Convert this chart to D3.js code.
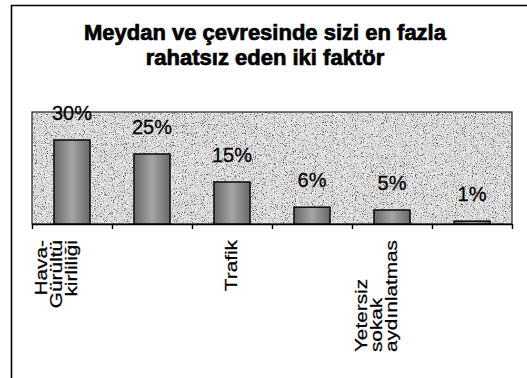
<!DOCTYPE html>
<html>
<head>
<meta charset="utf-8">
<script src="https://cdn.jsdelivr.net/npm/d3@7"></script>
<style>
  html, body { margin: 0; padding: 0; background: #fff; }
  svg { display: block; }
</style>
</head>
<body>
<svg id="chart" width="527" height="378"></svg>
<script>
// Survey: the two factors that disturb people most around the square
const titleLines = ["Meydan ve çevresinde sizi en fazla", "rahatsız eden iki faktör"];
const categoryLabels = [
  ["Hava-", "Gürültü", "kirliliği"],
  [],
  ["Trafik"],
  [],
  ["Yetersiz", "sokak", "aydınlatmas"],
  []
];
const values = [30, 25, 15, 6, 5, 1];
const valueLabels = ["30%", "25%", "15%", "6%", "5%", "1%"];
const yDomain = [0, 40];

const svg = d3.select("#chart");
const W = 527, H = 378;
const plot = { left: 32, right: 512, top: 112, bottom: 224 };
const FONT = "'Liberation Sans', Arial, sans-serif";

// ---- textures ----
const defs = svg.append("defs");
function grain(id, freq, darkGain, darkBias, lightGain, lightBias, seed) {
  const f = defs.append("filter").attr("id", id)
    .attr("filterUnits", "objectBoundingBox")
    .attr("color-interpolation-filters", "sRGB")
    .attr("x", 0).attr("y", 0).attr("width", 1).attr("height", 1);
  f.append("feTurbulence").attr("type", "fractalNoise")
    .attr("baseFrequency", freq).attr("numOctaves", 3).attr("seed", seed).attr("result", "n");
  f.append("feColorMatrix").attr("in", "n").attr("type", "matrix")
    .attr("values", `0 0 0 0 0.25  0 0 0 0 0.25  0 0 0 0 0.25  ${darkGain} 0 0 0 ${darkBias}`)
    .attr("result", "dark");
  f.append("feColorMatrix").attr("in", "n").attr("type", "matrix")
    .attr("values", `0 0 0 0 1  0 0 0 0 1  0 0 0 0 1  ${lightGain} 0 0 0 ${lightBias}`)
    .attr("result", "light");
  const m = f.append("feMerge").attr("result", "mix");
  m.append("feMergeNode").attr("in", "SourceGraphic");
  m.append("feMergeNode").attr("in", "dark");
  m.append("feMergeNode").attr("in", "light");
  f.append("feComposite").attr("in", "mix").attr("in2", "SourceGraphic").attr("operator", "in");
}
grain("plotGrain", 1.1, 4, -2.3, -4, 2.05, 4);
grain("barGrain", 1.0, 4, -2.2, -4, 1.9, 9);

const barGrad = defs.append("linearGradient").attr("id", "barGrad")
  .attr("x1", 0).attr("x2", 1).attr("y1", 0).attr("y2", 0);
barGrad.append("stop").attr("offset", "0%").attr("stop-color", "#6a6a6a");
barGrad.append("stop").attr("offset", "50%").attr("stop-color", "#a4a4a4");
barGrad.append("stop").attr("offset", "100%").attr("stop-color", "#6a6a6a");

// ---- chart frame ----
svg.append("path")
  .attr("d", `M11.5,${H} V5.5 H${W}`)
  .attr("fill", "none").attr("stroke", "#000").attr("stroke-width", 1.6);

// ---- title ----
svg.append("g").selectAll("text").data(titleLines).join("text")
  .attr("x", 265)
  .attr("y", (d, i) => 40 + i * 25)
  .attr("text-anchor", "middle")
  .attr("font-family", FONT).attr("font-weight", "bold").attr("font-size", 22)
  .attr("fill", "#000").attr("stroke", "#000").attr("stroke-width", 0.7)
  .text(d => d);

// ---- scales ----
const x = d3.scaleBand().domain(d3.range(values.length))
  .range([plot.left, plot.right]).paddingInner(0.55).paddingOuter(0.275);
const y = d3.scaleLinear().domain(yDomain).range([plot.bottom, plot.top]);
const xEdge = d3.scaleLinear().domain([0, values.length]).range([plot.left, plot.right]);

// ---- plot area ----
svg.append("rect")
  .attr("x", plot.left).attr("y", plot.top)
  .attr("width", plot.right - plot.left).attr("height", plot.bottom - plot.top)
  .attr("fill", "#d4d4d4").attr("filter", "url(#plotGrain)");
svg.append("rect")
  .attr("x", plot.left).attr("y", plot.top)
  .attr("width", plot.right - plot.left).attr("height", plot.bottom - plot.top)
  .attr("fill", "none").attr("stroke", "#222").attr("stroke-width", 1.2);

// ---- bars ----
const bars = svg.append("g");
bars.selectAll("rect.fill").data(values).join("rect").attr("class", "fill")
  .attr("x", (d, i) => x(i)).attr("width", x.bandwidth())
  .attr("y", d => y(d)).attr("height", d => y(0) - y(d))
  .attr("fill", "url(#barGrad)").attr("filter", "url(#barGrain)");
bars.selectAll("rect.edge").data(values).join("rect").attr("class", "edge")
  .attr("x", (d, i) => x(i)).attr("width", x.bandwidth())
  .attr("y", d => y(d)).attr("height", d => y(0) - y(d))
  .attr("fill", "none").attr("stroke", "#111").attr("stroke-width", 1.6);

// ---- value labels ----
svg.append("g").selectAll("text").data(values).join("text")
  .attr("x", (d, i) => x(i) + x.bandwidth() / 2)
  .attr("y", d => y(d) - 20)
  .attr("text-anchor", "middle")
  .attr("font-family", FONT).attr("font-size", 20)
  .attr("fill", "#000").attr("stroke", "#000").attr("stroke-width", 0.3)
  .text((d, i) => valueLabels[i]);

// ---- category axis ----
const axis = svg.append("g")
  .attr("transform", `translate(0,${plot.bottom})`)
  .call(d3.axisBottom(xEdge).tickValues(d3.range(values.length + 1))
    .tickSize(5).tickSizeOuter(0).tickFormat(""));
axis.select(".domain").attr("stroke", "#000").attr("stroke-width", 1.6);
axis.selectAll(".tick line").attr("stroke", "#000").attr("stroke-width", 1.4);

// rotated, wrapped category names; one group sits on its longest line's start
const bottomAligned = new Set([4]);
const labelTop = 240;
const lineStep = 15;
const stretch = 1.3;
categoryLabels.forEach((lines, i) => {
  if (!lines.length) return;
  const cx = x(i) + x.bandwidth() / 2;
  const g = svg.append("g")
    .attr("transform", `translate(${cx},${labelTop}) rotate(-90) scale(${stretch},1)`);
  const texts = g.selectAll("text").data(lines).join("text")
    .attr("x", 0)
    .attr("y", (d, k) => 5 + (k - (lines.length - 1)) * lineStep)
    .attr("text-anchor", "end")
    .attr("font-family", FONT).attr("font-size", 16)
    .attr("fill", "#000").attr("stroke", "#000").attr("stroke-width", 0.25)
    .text(d => d);
  if (bottomAligned.has(i)) {
    const lens = texts.nodes().map(n => n.getComputedTextLength());
    const maxLen = d3.max(lens);
    texts.attr("x", (d, k) => -(maxLen - lens[k]));
  }
});
</script>
</body>
</html>
